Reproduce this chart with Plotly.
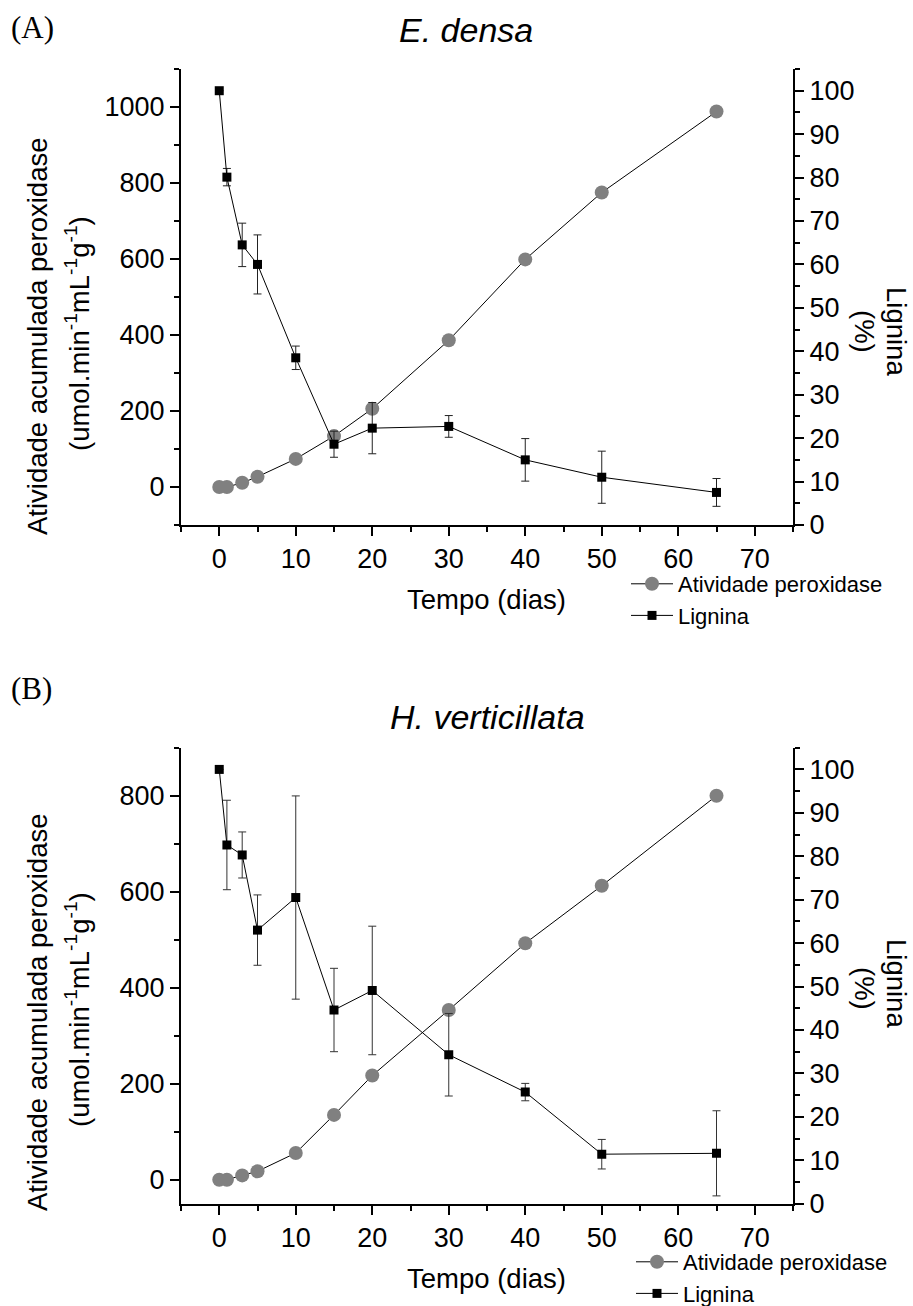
import plotly.graph_objects as go

W, H = 913, 1306

# ---------------- data ----------------
days = [0, 1, 3, 5, 10, 15, 20, 30, 40, 50, 65]

perox_A = [0, 0, 11, 27, 74, 134, 206, 386, 599, 775, 988]
lignin_A = [100, 80.1, 64.5, 60, 38.5, 18.6, 22.3, 22.7, 15, 11, 7.5]
lignin_A_err = [0, 2, 5, 6.8, 2.7, 3, 5.9, 2.5, 4.9, 6, 3.2]

perox_B = [0, 0, 9, 17.5, 55.6, 135, 217, 353.5, 492.5, 612.5, 800]
lignin_B = [100, 82.6, 80.3, 63, 70.5, 44.6, 49.1, 34.3, 25.7, 11.4, 11.6]
lignin_B_err = [0, 10.3, 5.3, 8.1, 23.4, 9.6, 14.8, 9.5, 2, 3.4, 9.8]

x_ticks = [0, 10, 20, 30, 40, 50, 60, 70]
name_perox = "Atividade peroxidase"
name_lig = "Lignina"

FONT = "Liberation Sans, Arial, sans-serif"
SERIF = "Liberation Serif, Times New Roman, serif"


def px(x):
    return x / W


def py(y):
    return 1 - y / H


fig = go.Figure()

# top panel
fig.add_trace(go.Scatter(
    x=days, y=perox_A, name=name_perox, mode="lines+markers",
    line=dict(color="black", width=1),
    marker=dict(symbol="circle", size=14, color="#808080"),
    xaxis="x", yaxis="y", legend="legend"))
fig.add_trace(go.Scatter(
    x=days, y=lignin_A, name=name_lig, mode="lines+markers",
    line=dict(color="black", width=1),
    marker=dict(symbol="square", size=9, color="black"),
    error_y=dict(type="data", array=lignin_A_err, color="#222222",
                 thickness=1, width=4),
    xaxis="x", yaxis="y2", legend="legend"))

# bottom panel
fig.add_trace(go.Scatter(
    x=days, y=perox_B, name=name_perox, mode="lines+markers",
    line=dict(color="black", width=1),
    marker=dict(symbol="circle", size=14, color="#808080"),
    xaxis="x2", yaxis="y3", legend="legend2"))
fig.add_trace(go.Scatter(
    x=days, y=lignin_B, name=name_lig, mode="lines+markers",
    line=dict(color="black", width=1),
    marker=dict(symbol="square", size=9, color="black"),
    error_y=dict(type="data", array=lignin_B_err, color="#333333",
                 thickness=1, width=4),
    xaxis="x2", yaxis="y4", legend="legend2"))

xdom = [px(181), px(793)]
top_dom = [py(525), py(69)]
bot_dom = [py(1203.7), py(747.7)]

tickfont = dict(family=FONT, size=27, color="black")


def xax(anchor):
    return dict(domain=xdom, anchor=anchor, range=[-5, 75],
                tickmode="array", tickvals=x_ticks,
                ticks="outside", ticklen=9, tickwidth=1.5, tickcolor="black",
                showline=True, linewidth=2, linecolor="black",
                showgrid=False, zeroline=False, tickfont=tickfont,
                minor=dict(dtick=5, tick0=0, ticks="outside", ticklen=5,
                           tickwidth=1.5, tickcolor="black", showgrid=False))


def yleft(dom, rng, anchor):
    return dict(domain=dom, anchor=anchor, range=rng, dtick=200, tick0=0,
                ticks="outside", ticklen=9, tickwidth=1.5, tickcolor="black",
                showline=True, linewidth=2, linecolor="black",
                showgrid=False, zeroline=False, tickfont=tickfont,
                minor=dict(dtick=100, tick0=0, ticks="outside", ticklen=5,
                           tickwidth=1.5, tickcolor="black", showgrid=False))


def yright(over, anchor):
    return dict(overlaying=over, side="right", anchor=anchor, range=[0, 105],
                dtick=10, tick0=0,
                ticks="outside", ticklen=9, tickwidth=1.5, tickcolor="black",
                showline=True, linewidth=2, linecolor="black",
                showgrid=False, zeroline=False, tickfont=tickfont,
                minor=dict(dtick=5, tick0=0, ticks="outside", ticklen=5,
                           tickwidth=1.5, tickcolor="black", showgrid=False))


ann = []


def add_text(text, x, y, size=27, angle=0, family=FONT, xanchor="center", italic=False):
    t = f"<i>{text}</i>" if italic else text
    ann.append(dict(text=t, x=px(x), y=py(y), xref="paper", yref="paper",
                    xanchor=xanchor, yanchor="middle", showarrow=False,
                    textangle=angle, font=dict(family=family, size=size, color="black")))


ylab2 = "(umol.min<sup>-1</sup>mL<sup>-1</sup>g<sup>-1</sup>)"

add_text("(A)", 9, 28, size=31, family=SERIF, xanchor="left")
add_text("E. densa", 466, 30, size=34, italic=True)
add_text("Atividade acumulada peroxidase", 37, 337, angle=-90, size=27.5)
add_text(ylab2, 77, 334, angle=-90, size=27.5)
add_text("Lignina", 897, 331, angle=90, size=27.5)
add_text("(%)", 865, 331, angle=90, size=27.5)
add_text("Tempo (dias)", 486, 599, size=27.5)

add_text("(B)", 9, 688, size=31, family=SERIF, xanchor="left")
add_text("H. verticillata", 487, 717, size=34, italic=True)
add_text("Atividade acumulada peroxidase", 37, 1013, angle=-90, size=27.5)
add_text(ylab2, 77, 1010, angle=-90, size=27.5)
add_text("Lignina", 897, 983, angle=90, size=27.5)
add_text("(%)", 865, 988, angle=90, size=27.5)
add_text("Tempo (dias)", 486, 1278, size=27.5)

legfont = dict(family=FONT, size=22, color="black")

fig.update_layout(
    width=W, height=H,
    margin=dict(l=0, r=0, t=0, b=0, autoexpand=False),
    paper_bgcolor="white", plot_bgcolor="white",
    font=dict(family=FONT, color="black"),
    xaxis=xax("y"),
    yaxis=yleft(top_dom, [-100, 1100], "x"),
    yaxis2=yright("y", "x"),
    xaxis2=xax("y3"),
    yaxis3=yleft(bot_dom, [-50, 900], "x2"),
    yaxis4=yright("y3", "x2"),
    legend=dict(x=px(626), y=py(563), xanchor="left", yanchor="top",
                xref="container", yref="container",
                font=legfont, bgcolor="rgba(0,0,0,0)", itemwidth=42,
                tracegroupgap=0, borderwidth=0),
    legend2=dict(x=px(631), y=py(1241), xanchor="left", yanchor="top",
                 xref="container", yref="container",
                 font=legfont, bgcolor="rgba(0,0,0,0)", itemwidth=42,
                 tracegroupgap=0, borderwidth=0),
    annotations=ann,
    showlegend=True,
)

fig.write_html(
    "out.html",
    config={"displayModeBar": False},
    post_script="document.body.style.margin='0';document.body.style.padding='0';"
                "document.documentElement.style.overflow='hidden';",
)
